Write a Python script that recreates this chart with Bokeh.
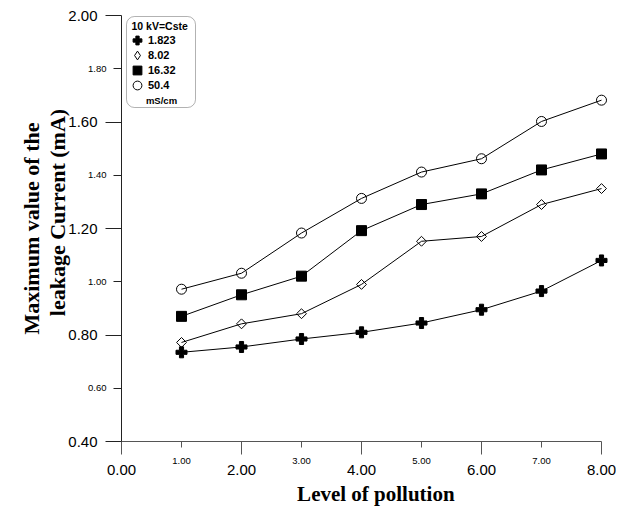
import math
from bokeh.plotting import figure
from bokeh.core.properties import value
from bokeh.models import (ColumnDataSource, FixedTicker, PrintfTickFormatter, Range1d,
                          Label, LabelSet, Legend, LegendItem, BoxAnnotation)
from bokeh.embed import file_html
from bokeh.resources import INLINE

# ---- data ----
pollution_level = [1, 2, 3, 4, 5, 6, 7, 8]
cond_1_823 = [0.735, 0.755, 0.785, 0.810, 0.845, 0.895, 0.965, 1.080]
cond_8_02 = [0.772, 0.842, 0.880, 0.990, 1.152, 1.170, 1.290, 1.350]
cond_16_32 = [0.870, 0.951, 1.021, 1.192, 1.290, 1.330, 1.420, 1.480]
cond_50_4 = [0.972, 1.032, 1.183, 1.313, 1.412, 1.462, 1.602, 1.682]
series_names = ["1.823", "8.02", "16.32", "50.4"]

x_major_ticks = [0, 2, 4, 6, 8]
x_minor_ticks = [1, 3, 5, 7]
y_major_ticks = [0.4, 0.8, 1.2, 1.6, 2.0]
y_minor_ticks = [0.6, 1.0, 1.4, 1.8]

legend_title = "10 kV=Cste"
legend_unit = "mS/cm"
x_title = "Level of  pollution"
y_title_1 = "Maximum value of the"
y_title_2 = "leakage Current (mA)"

SANS = "Liberation Sans"
SERIF = "Liberation Serif"

# ---- layout (pixels) ----
W, H = 616, 506
AXIS_LEFT_PX, AXIS_TOP_PX, AXIS_BOTTOM_PX, AXIS_RIGHT_PX = 121, 15, 441, 601
x0, x1 = x_major_ticks[0], x_major_ticks[-1]
y0, y1 = y_major_ticks[0], y_major_ticks[-1]
ppx = (AXIS_RIGHT_PX - AXIS_LEFT_PX) / (x1 - x0)
ppy = (AXIS_BOTTOM_PX - AXIS_TOP_PX) / (y1 - y0)
x_range = Range1d(x0 - AXIS_LEFT_PX / ppx, x0 + (W - AXIS_LEFT_PX) / ppx)
y_range = Range1d(y0 - (H - AXIS_BOTTOM_PX) / ppy, y1 + AXIS_TOP_PX / ppy)

p = figure(width=W, height=H, output_backend="svg", toolbar_location=None, title=None,
           x_range=x_range, y_range=y_range, min_border=0)
p.outline_line_color = None
p.xgrid.visible = False
p.ygrid.visible = False
p.background_fill_color = "white"
p.border_fill_color = "white"


def style_axis(ax, major, minor, tout, mout, standoff, color):
    ax.ticker = FixedTicker(ticks=major, minor_ticks=minor)
    ax.formatter = PrintfTickFormatter(format="%.2f")
    ax.major_tick_out = tout
    ax.major_tick_in = 0
    ax.minor_tick_out = mout
    ax.minor_tick_in = 0
    ax.major_label_text_font = SANS
    ax.major_label_text_font_size = "15px"
    ax.major_label_text_color = "black"
    ax.major_label_standoff = standoff
    ax.axis_line_color = color
    ax.major_tick_line_color = color
    ax.minor_tick_line_color = color


xa = p.xaxis[0]
style_axis(xa, x_major_ticks, x_minor_ticks, 13, 6, 10, "#555555")
xa.fixed_location = y0
xa.bounds = (x0, x1)

ya = p.yaxis[0]
style_axis(ya, y_major_ticks, y_minor_ticks, 16, 8, 8, "#222222")
ya.fixed_location = x0
ya.bounds = (y0, y1)

# small labels on the minor ticks
xs_src = ColumnDataSource(dict(x=x_minor_ticks, t=["%.2f" % v for v in x_minor_ticks]))
p.add_layout(LabelSet(x="x", y=y0, y_offset=-19, text="t", source=xs_src,
                      text_font=value(SANS), text_font_size="9.5px", text_align="center",
                      text_baseline="middle", text_color="black"))
ys_src = ColumnDataSource(dict(y=y_minor_ticks, t=["%.2f" % v for v in y_minor_ticks]))
p.add_layout(LabelSet(x=x0, x_offset=-15, y="y", text="t", source=ys_src,
                      text_font=value(SANS), text_font_size="9.5px", text_align="right",
                      text_baseline="middle", text_color="black"))

# series
src = ColumnDataSource(dict(x=pollution_level, a=cond_1_823, b=cond_8_02,
                            c=cond_16_32, d=cond_50_4))
styles = [
    ("a", dict(marker="plus", size=11, fill_color="black", line_color="black", line_width=1)),
    ("b", dict(marker="square", angle=math.pi / 4, size=7, fill_color=None, line_color="black", line_width=1)),
    ("c", dict(marker="square", size=10, fill_color="black", line_color="black", line_width=1)),
    ("d", dict(marker="circle", size=10, fill_color=None, line_color="black", line_width=1)),
]
legend_renderers = []
for col, st in styles:
    p.line("x", col, source=src, line_color="black", line_width=1)
    r = p.scatter("x", col, source=src, **st)
    if col == "b":
        # legend swatch for the diamonds (legend swatches ignore the angle)
        r = p.scatter("x", col, source=src, marker="diamond", size=0,
                      fill_color=None, line_color="black", line_width=1)
    legend_renderers.append(r)

# legend box (screen px from the bottom-left corner)
p.add_layout(BoxAnnotation(left=126, right=195, top=H - 16, bottom=H - 107,
                           left_units="screen", right_units="screen",
                           top_units="screen", bottom_units="screen",
                           fill_color="white", fill_alpha=1.0,
                           line_color="black", line_width=1, border_radius=8))
row_centers = [40, 55, 70, 85]
for name, r, c in zip(series_names, legend_renderers, row_centers):
    lg = Legend(items=[LegendItem(label=name, renderers=[r])], location=(126, H - (c + 12)),
                padding=0, margin=0, glyph_width=22, glyph_height=24, label_height=24,
                label_standoff=0, border_line_color=None, background_fill_alpha=0,
                label_text_font=SANS, label_text_font_size="11px",
                label_text_font_style="bold", label_text_color="black")
    p.add_layout(lg, "center")

p.add_layout(Label(x=131, y=H - 25, x_units="screen", y_units="screen", text=legend_title,
                   text_font=SANS, text_font_size="10.5px", text_font_style="bold",
                   text_baseline="middle", text_align="left", text_color="black"))
p.add_layout(Label(x=161, y=H - 100, x_units="screen", y_units="screen", text=legend_unit,
                   text_font=SANS, text_font_size="9.5px", text_font_style="bold",
                   text_baseline="middle", text_align="center", text_color="black"))

# axis titles
p.add_layout(Label(x=378, y=H - 493, x_units="screen", y_units="screen", text=x_title,
                   text_font=SERIF, text_font_size="21px", text_font_style="bold",
                   text_baseline="middle", text_align="center", text_color="black"))
p.add_layout(Label(x=31, y=H - 228, x_units="screen", y_units="screen", text=y_title_1,
                   angle=math.pi / 2, text_font=SERIF, text_font_size="22px",
                   text_font_style="bold", text_baseline="middle", text_align="center",
                   text_color="black"))
p.add_layout(Label(x=57, y=H - 212, x_units="screen", y_units="screen", text=y_title_2,
                   angle=math.pi / 2, text_font=SERIF, text_font_size="22px",
                   text_font_style="bold", text_baseline="middle", text_align="center",
                   text_color="black"))

open("out.html", "w").write(file_html(p, INLINE))
